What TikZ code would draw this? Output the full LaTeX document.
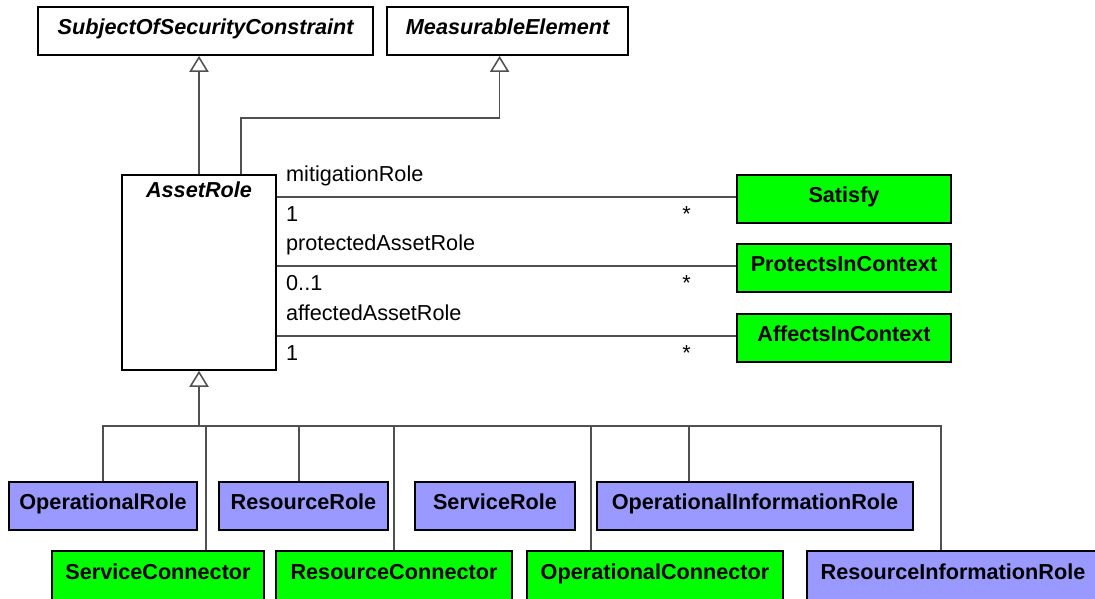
\documentclass[tikz,border=0pt]{standalone}
\usepackage{fontspec}
\setmainfont{Liberation Sans}
\usetikzlibrary{arrows.meta}

\definecolor{rolefill}{HTML}{9999FF}
\definecolor{connfill}{HTML}{00FF00}
\definecolor{linegray}{HTML}{505050}

\begin{document}
\begin{tikzpicture}[
    every node/.style={font=\fontsize{15.4}{18}\selectfont},
    cls/.style={
        draw,
        line width=1.3pt,
        font=\fontsize{15.4}{18}\selectfont\bfseries,
        minimum height=1.2cm,
        text height=0.4cm,
        text depth=0.24cm,
        align=center
    },
    abstractcls/.style={cls, fill=white, font=\fontsize{15.4}{18}\selectfont\bfseries\itshape},
    rolecls/.style={cls, fill=rolefill},
    conncls/.style={cls, fill=connfill},
    assoc/.style={draw=linegray, line width=1.1pt},
    gen/.style={assoc, -{Triangle[open, fill=white, length=0.4cm, width=0.48cm]}},
    lbl/.style={inner sep=0pt}
]

\useasboundingbox (0,0) rectangle (27.375,-14.95);

% Abstract parents
\node[abstractcls, minimum width=8.375cm] (subject) at (5.14,-0.775) {SubjectOfSecurityConstraint};
\node[abstractcls, minimum width=6.025cm] (measurable) at (12.69,-0.775) {MeasurableElement};

% AssetRole
\node[abstractcls, minimum width=3.85cm, minimum height=4.875cm,
    label={[font=\fontsize{15.4}{18}\selectfont\bfseries\itshape, anchor=north, yshift=-0.08cm]north:AssetRole}]
    (asset) at (4.975,-6.81) {};

% Associated classes
\node[conncls, minimum width=5.35cm] (satisfy) at (21.1,-4.975) {Satisfy};
\node[conncls, minimum width=5.35cm] (protects) at (21.1,-6.7) {ProtectsInContext};
\node[conncls, minimum width=5.35cm] (affects) at (21.1,-8.45) {AffectsInContext};

% Subclasses, first row
\node[rolecls, minimum width=4.7cm] (oprole) at (2.575,-12.65) {OperationalRole};
\node[rolecls, minimum width=4.225cm] (resrole) at (7.5875,-12.65) {ResourceRole};
\node[rolecls, minimum width=4.0cm] (servrole) at (12.375,-12.65) {ServiceRole};
\node[rolecls, minimum width=7.9cm] (opinforole) at (18.875,-12.65) {OperationalInformationRole};

% Subclasses, second row
\node[conncls, minimum width=5.3cm, minimum height=1.25cm] (servconn) at (3.95,-14.4) {ServiceConnector};
\node[conncls, minimum width=5.9cm, minimum height=1.25cm] (resconn) at (9.85,-14.4) {ResourceConnector};
\node[conncls, minimum width=6.4cm, minimum height=1.25cm] (opconn) at (16.375,-14.4) {OperationalConnector};
\node[rolecls, minimum width=7.3cm, minimum height=1.25cm] (resinforole) at (23.825,-14.4) {ResourceInformationRole};

% Generalization to the parents
\draw[gen] (asset.north) -- (asset.north |- subject.south);
\draw[gen] ([xshift=1.05cm]asset.north) -- ++(0,1.4) -| ([xshift=-0.2cm]measurable.south);

% Generalization from the subclasses
\coordinate (bus) at (4.975,-10.65);
\draw[gen] (bus) -- (asset.south);
\draw[assoc] (oprole.north) |- (bus);
\draw[assoc] ([xshift=1.2cm]servconn.north) |- (bus);
\draw[assoc] ([xshift=-0.11cm]resrole.north) |- (bus);
\draw[assoc] (resconn.north) |- (bus);
\draw[assoc] ([xshift=-1.6cm]opconn.north) |- (bus);
\draw[assoc] ([xshift=-1.65cm]opinforole.north) |- (bus);
\draw[assoc] ([xshift=-0.3cm]resinforole.north) |- (bus);

% Associations
\coordinate (satin) at ([yshift=0.05cm]satisfy.west);
\coordinate (satout) at (satin -| asset.east);
\draw[assoc] (satout) -- (satin);
\node[lbl, anchor=base west] (mitrole) at ([xshift=0.225cm,yshift=0.4cm]satout) {mitigationRole};
\node[lbl, anchor=base west] (mitone) at ([xshift=0.225cm,yshift=-0.6cm]satout) {1};
\node[lbl, anchor=base west] (mitmany) at ([xshift=-1.35cm,yshift=-0.6cm]satin) {*};

\coordinate (protin) at ([yshift=0.05cm]protects.west);
\coordinate (protout) at (protin -| asset.east);
\draw[assoc] (protout) -- (protin);
\node[lbl, anchor=base west] (protrole) at ([xshift=0.225cm,yshift=0.4cm]protout) {protectedAssetRole};
\node[lbl, anchor=base west] (protone) at ([xshift=0.225cm,yshift=-0.6cm]protout) {0..1};
\node[lbl, anchor=base west] (protmany) at ([xshift=-1.35cm,yshift=-0.6cm]protin) {*};

\coordinate (affin) at ([yshift=0.05cm]affects.west);
\coordinate (affout) at (affin -| asset.east);
\draw[assoc] (affout) -- (affin);
\node[lbl, anchor=base west] (affrole) at ([xshift=0.225cm,yshift=0.4cm]affout) {affectedAssetRole};
\node[lbl, anchor=base west] (affone) at ([xshift=0.225cm,yshift=-0.6cm]affout) {1};
\node[lbl, anchor=base west] (affmany) at ([xshift=-1.35cm,yshift=-0.6cm]affin) {*};

\end{tikzpicture}
\end{document}
